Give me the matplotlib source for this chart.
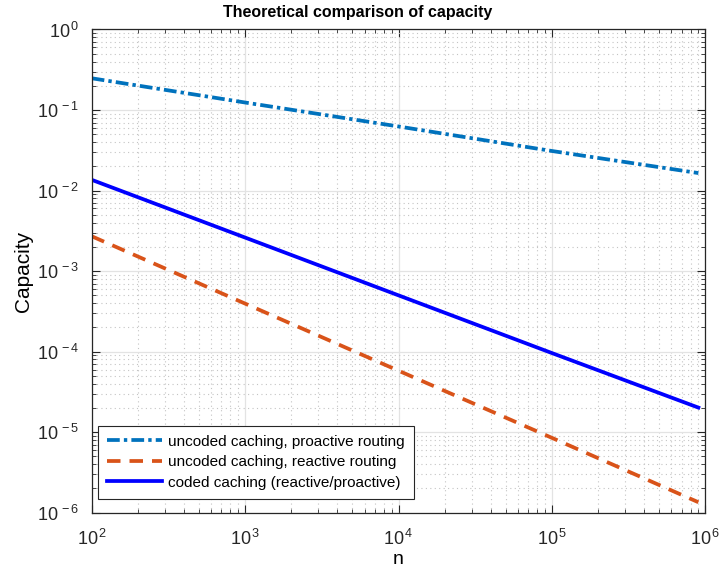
import math
import matplotlib
matplotlib.use("Agg")
import matplotlib.pyplot as plt
from matplotlib.ticker import LogLocator, FuncFormatter, NullFormatter

plt.rcParams["font.family"] = ["Liberation Sans", "DejaVu Sans"]
plt.rcParams["mathtext.fontset"] = "custom"
plt.rcParams["mathtext.rm"] = "Liberation Sans"
plt.rcParams["mathtext.it"] = "Liberation Sans"

# values (log-log, straight lines)
n = [1e2, 1e3, 1e4, 1e5, 9e5]
uncoded_proactive = [0.248, 0.124, 0.0625, 0.031, 0.0165]
uncoded_reactive = [2.71e-3, 3.95e-4, 5.8e-5, 8.5e-6, 1.35e-6]
coded = [1.36e-2, 2.61e-3, 5.0e-4, 9.6e-5, 2.02e-5]

fig = plt.figure(figsize=(7.22, 5.75), dpi=100)
ax = fig.add_axes([0.127, 0.1083, 0.850, 0.8404])

ax.loglog(n, uncoded_proactive, linestyle=(0, (3.4, 1.1, 0.9, 1.1)), color="#0072BD",
          linewidth=2.7, label="uncoded caching, proactive routing")
ax.loglog(n, uncoded_reactive, linestyle=(0, (3.6, 2.4)), color="#D95319",
          linewidth=2.7, label="uncoded caching, reactive routing")
ax.loglog(n, coded, linestyle="-", color="#0000FF", linewidth=2.7,
          label="coded caching (reactive/proactive)")

ax.set_xlim(1e2, 1e6)
ax.set_ylim(1e-6, 1e0)
ax.xaxis.set_major_locator(LogLocator(base=10, numticks=10))
ax.yaxis.set_major_locator(LogLocator(base=10, numticks=10))


def sup(v, pos):
    e = int(round(math.log10(v)))
    return r"$10^{\,%d}$" % e


ax.xaxis.set_major_formatter(FuncFormatter(sup))
ax.yaxis.set_major_formatter(FuncFormatter(sup))
ax.xaxis.set_minor_formatter(NullFormatter())
ax.yaxis.set_minor_formatter(NullFormatter())

ax.grid(which="major", linestyle="-", color="#e3e3e3", linewidth=0.9)
ax.grid(which="minor", linestyle=(0, (1, 3)), color="#c4c4c4", linewidth=0.8)
ax.set_axisbelow(True)

ax.tick_params(which="both", direction="in", top=True, right=True, colors="#262626")
ax.tick_params(which="major", length=6, labelsize=13)
ax.tick_params(axis="x", which="major", pad=12)
ax.tick_params(axis="y", which="major", pad=9)
ax.tick_params(which="minor", length=3)
for s in ax.spines.values():
    s.set_color("#262626")
    s.set_linewidth(0.9)

fig.text(357.5 / 722, 1 - 12 / 575, "Theoretical comparison of capacity",
         fontsize=11.5, fontweight="bold", ha="center", va="center")

ax.set_xlabel("n", fontsize=14, labelpad=1)
ax.set_ylabel("Capacity", fontsize=15, labelpad=3)

leg = ax.legend(loc="lower left", bbox_to_anchor=(0.01, 0.029), borderaxespad=0,
                fontsize=11, fancybox=False, framealpha=1, edgecolor="#262626",
                handlelength=3.6, handletextpad=0.4, borderpad=0.6, labelspacing=0.42)
leg.get_frame().set_linewidth(0.8)

fig.savefig("out.png", dpi=100)
